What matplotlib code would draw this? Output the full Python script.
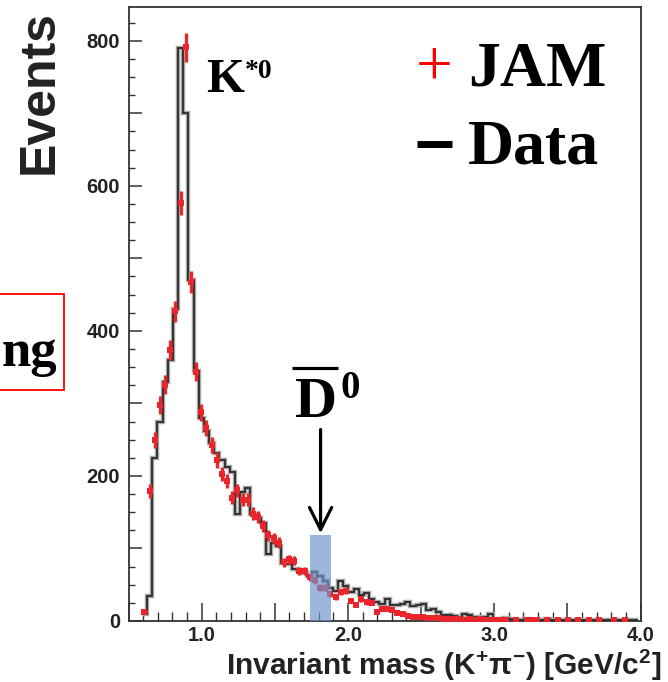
import numpy as np
import matplotlib
matplotlib.use("Agg")
import matplotlib.pyplot as plt
from matplotlib.transforms import Affine2D
from matplotlib.patches import Rectangle
from matplotlib.lines import Line2D
from matplotlib.ticker import MultipleLocator, FuncFormatter

# ---------------- data ----------------
BIN_LO = 0.5915      # lower edge of first bin [GeV/c^2]
BIN_W = 0.0353       # bin width [GeV/c^2]

jam_counts = [13, 179, 250, 298, 326, 374, 427, 576, 791, 468,
              344, 288, 266, 243, 222, 203, 193, 170, 180, 167,
              167, 148, 143, 131, 118, 114, 108, 81, 85, 83,
              69, 69, 60, 56, 46, 46, 37, 33, 40, 42,
              28, 22, 30, 26, 25, 12, 16, 16, 15, 11,
              10, 7, 6, 5, 5, 4, 4, 4, 3, 3,
              3, 3, 2, 3, 2, 3, 2, 2, 1, 1,
              1, 0, 1, 0, 1, 2, 1, 0, 1, 0,
              1, 0, 1, 0, 2, 0, 1, 0, 1, 0,
              0, 1, 0, 1, 0, 0]

data_counts = [10, 34, 225, 275, 330, 360, 430, 790, 700, 470,
               345, 280, 262, 245, 232, 222, 213, 205, 148, 178,
               184, 148, 142, 135, 92, 108, 104, 80, 78, 72,
               70, 66, 62, 68, 62, 55, 45, 42, 55, 48,
               40, 44, 36, 38, 30, 26, 24, 30, 22, 22,
               24, 26, 20, 22, 24, 15, 16, 13, 8, 8,
               7, 6, 10, 8, 6, 5, 5, 10, 3, 3,
               4, 3, 2, 2, 3, 2, 2, 2, 3, 2,
               2, 1, 2, 1, 2, 1, 1, 2, 1, 1,
               1, 1, 2, 1, 1, 1]

d0_window = (1.741, 1.885)   # highlighted D0-bar mass window
d0_window_height = 119       # events

x_ticklabels = ["1.0", "2.0", "3.0", "4.0"]
y_ticklabels = ["0", "200", "400", "600", "800"]

# ---------------- figure ----------------
W, H = 668, 682
fig = plt.figure(figsize=(W / 100, H / 100), dpi=100)
fig.patch.set_facecolor("white")
pix = Affine2D().scale(1 / W, -1 / H).translate(0, 1) + fig.transFigure

ax = fig.add_axes([128.5 / W, 1 - 621 / H, 512 / W, 614.3 / H])

n = len(data_counts)
edges = BIN_LO + BIN_W * np.arange(n + 1)
centers = 0.5 * (edges[:-1] + edges[1:])
jam = np.array(jam_counts, dtype=float)
dat = np.array(data_counts, dtype=float)

# Data histogram (ROOT-like step line)
ax.stairs(dat, edges, color="#a8a8a8", lw=3.2, baseline=None, zorder=2)
ax.stairs(dat, edges, color="#2a2a2a", lw=1.3, baseline=None, zorder=3)

# JAM points with error bars
mask = jam > 0
ax.errorbar(centers[mask], jam[mask], yerr=0.7 * np.sqrt(jam[mask]),
            xerr=0.014, fmt="s", ms=4.3, color="#e8262c", ecolor="#e8262c",
            elinewidth=2.4, capsize=0, zorder=4, mew=0)

# highlighted window
ax.add_patch(Rectangle((d0_window[0], 0), d0_window[1] - d0_window[0],
                       d0_window_height, facecolor="#6f96cc", alpha=0.68,
                       edgecolor="none", zorder=5))

# arrow
xm = 0.5 * (d0_window[0] + d0_window[1])
ax.annotate("", xy=(xm, 121), xytext=(xm, 264),
            arrowprops=dict(arrowstyle="->,head_length=1.0,head_width=0.5",
                            lw=2.3, color="black", mutation_scale=16,
                            shrinkA=0, shrinkB=0), zorder=6)

ax.set_xlim(0.5, 4.0)
ax.set_ylim(0, 847)

ax.xaxis.set_major_locator(MultipleLocator(0.5))
ax.xaxis.set_minor_locator(MultipleLocator(0.1))
ax.yaxis.set_major_locator(MultipleLocator(100))
ax.yaxis.set_minor_locator(MultipleLocator(25))


def xfmt(v, pos):
    for lab in x_ticklabels:
        if abs(v - float(lab)) < 1e-6:
            return lab
    return ""


def yfmt(v, pos):
    for lab in y_ticklabels:
        if abs(v - float(lab)) < 1e-6:
            return lab
    return ""


ax.xaxis.set_major_formatter(FuncFormatter(xfmt))
ax.yaxis.set_major_formatter(FuncFormatter(yfmt))

tick_col = "#333333"
ax.tick_params(axis="x", which="major", direction="in", length=13, width=1.1,
               color=tick_col, pad=3.5, top=False)
ax.tick_params(axis="x", which="minor", direction="in", length=6.5, width=1.0,
               color=tick_col, top=False)
ax.tick_params(axis="y", which="major", direction="in", length=9.5, width=1.1,
               color=tick_col, pad=6, right=False)
ax.tick_params(axis="y", which="minor", direction="in", length=4.5, width=1.0,
               color=tick_col, right=False)
for lab in ax.get_xticklabels() + ax.get_yticklabels():
    lab.set_fontfamily("Liberation Sans")
    lab.set_fontweight("bold")
    lab.set_fontsize(14.5)
    lab.set_color("#222222")
for sp in ax.spines.values():
    sp.set_color("#333333")
    sp.set_linewidth(1.3)

# ---------------- axis titles ----------------
plt.rcParams["mathtext.fontset"] = "custom"
plt.rcParams["mathtext.rm"] = "Liberation Sans:bold"
plt.rcParams["mathtext.it"] = "Liberation Sans:bold"
plt.rcParams["mathtext.bf"] = "Liberation Sans:bold"

fig.text(40, 92, "Events", transform=pix, rotation=90, ha="center", va="center",
         fontfamily="Liberation Sans", fontweight="bold", fontsize=36,
         color="#222222")
fig.text(661, 675, r"Invariant mass (K$^{+}\pi^{-}$) [GeV/c$^{2}$]", transform=pix,
         ha="right", va="baseline", fontfamily="Liberation Sans",
         fontweight="bold", fontsize=21.5, color="#222222")

# ---------------- labels ----------------
serif = "Liberation Serif"
fig.text(206, 92, "K", transform=pix, ha="left", va="baseline",
         fontfamily=serif, fontweight="bold", fontsize=35)
fig.text(245, 78, "*0", transform=pix, ha="left", va="baseline",
         fontfamily=serif, fontweight="bold", fontsize=20)

fig.text(295, 417, "D", transform=pix, ha="left", va="baseline",
         fontfamily=serif, fontweight="bold", fontsize=42)
fig.text(340, 398, "0", transform=pix, ha="left", va="baseline",
         fontfamily=serif, fontweight="bold", fontsize=28)
fig.add_artist(Line2D([292, 338], [367.5, 367.5], transform=pix, color="black",
                      lw=2.3, solid_capstyle="butt"))

# legend-like labels
fig.text(434.5, 84, "+", transform=pix, ha="center", va="baseline",
         fontfamily=serif, fontsize=47, color="#ff0000")
fig.text(468, 85, "JAM", transform=pix, ha="left", va="baseline",
         fontfamily=serif, fontweight="bold", fontsize=46)
fig.add_artist(Line2D([417, 452], [143.5, 143.5], transform=pix, color="black",
                      lw=5, solid_capstyle="butt"))
fig.text(468, 163, "Data", transform=pix, ha="left", va="baseline",
         fontfamily=serif, fontweight="bold", fontsize=46)

# framed label at the left edge (partially visible in the original slide)
fig.add_artist(Rectangle((-10, 294), 74, 96, transform=pix, fill=False,
                         edgecolor="#ff0000", lw=1.3, clip_on=False))
fig.text(2, 366, "ng", transform=pix, ha="left", va="baseline",
         fontfamily=serif, fontweight="bold", fontsize=38)

fig.savefig("out.png", dpi=100, facecolor="white")
